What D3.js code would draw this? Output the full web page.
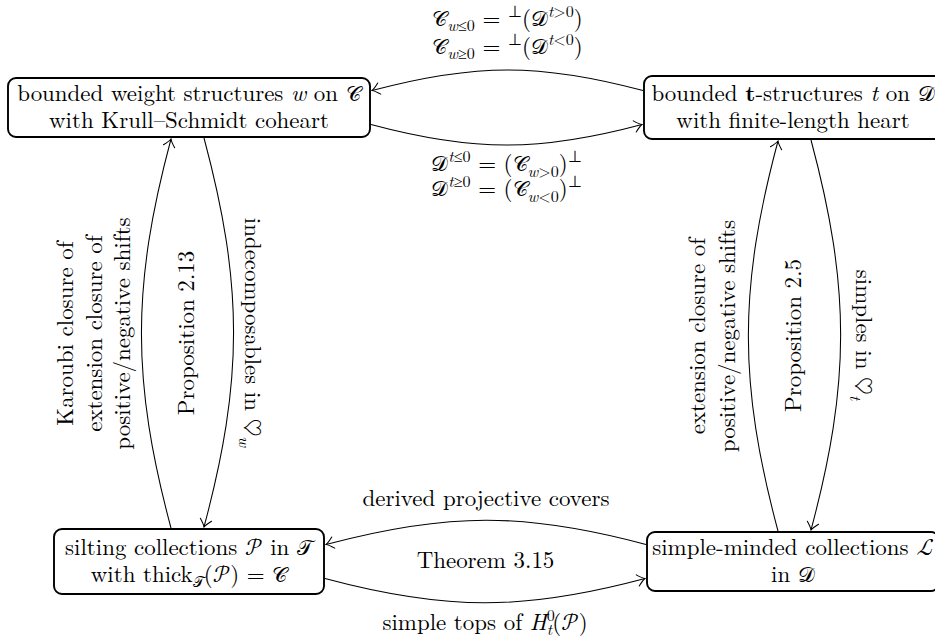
<!DOCTYPE html>
<html><head><meta charset="utf-8">
<script src="https://cdn.jsdelivr.net/npm/d3@7"></script>
<style>
html,body{margin:0;padding:0;background:#fff;}
svg{display:block;}
text{fill:#000;white-space:pre;}
</style></head><body>
<svg id="c" width="935" height="642"></svg>
<script>
// ---------------- data ----------------
const nodeIds  = ["weight", "tstruct", "silting", "smc"];
const nodeCols = [0, 1, 0, 1];
const nodeRows = [0, 0, 1, 1];
const nodeLabels = [
  [[["bounded weight structures "],["w","i"],[" on "],["𝒞","s"]],
   [["with Krull–Schmidt coheart"]]],
  [[["bounded "],["t","b"],["-structures "],["t","i"],[" on "],["𝒟","s"]],
   [["with finite-length heart"]]],
  [[["silting collections "],["𝒫","c"],[" in "],["𝒯","s"]],
   [["with thick"],["𝒯","s sub"],["("],["𝒫","c"],[") = "],["𝒞","s"]]],
  [[["simple-minded collections "],["ℒ","c"]],
   [["in "],["𝒟","s"]]]
];
const edgeFrom = [1, 0, 3, 2, 2, 0, 3, 1];
const edgeTo   = [0, 1, 2, 3, 0, 2, 1, 3];
const edgeLabels = [
  [[["𝒞","s"],["w","sub i"],["≤0","sub"],[" = "],["⊥","sup"],["("],["𝒟","s"],["t","sup i"],[">0","sup"],[")"]],
   [["𝒞","s"],["w","sub i"],["≥0","sub"],[" = "],["⊥","sup"],["("],["𝒟","s"],["t","sup i"],["<0","sup"],[")"]]],
  [[["𝒟","s"],["t","sup i"],["≤0","sup"],[" = ("],["𝒞","s"],["w","sub i"],[">0","sub"],[")"],["⊥","sup"]],
   [["𝒟","s"],["t","sup i"],["≥0","sup"],[" = ("],["𝒞","s"],["w","sub i"],["<0","sub"],[")"],["⊥","sup"]]],
  [[["derived projective covers"]]],
  [[["simple tops of "],["H","i"],["0","sup"],["t","sub i stack"],["("],["𝒫","c"],[")"]]],
  [[["Karoubi closure of"]],[["extension closure of"]],[["positive/negative shifts"]]],
  [[["indecomposables in "],["♡","h"],["w","sub i"]]],
  [[["extension closure of"]],[["positive/negative shifts"]]],
  [[["simples in "],["♡","h"],["t","sub i"]]]
];
const pairEdges  = [[2, 3], [4, 5], [6, 7]];
const pairLabels = ["Theorem 3.15", "Proposition 2.13", "Proposition 2.5"];

// ---------------- layout / style ----------------
const svg = d3.select("#c");
svg.style("font-family", "'Latin Modern Roman','CMU Serif','Liberation Serif',serif");
const scrFont = "'DejaVu Sans',sans-serif";              // curly script (\mathscr)
const calFont = "'Latin Modern Math','STIX Two Math',serif"; // calligraphic (\mathcal)

const x = d3.scaleLinear().domain([0, 1]).range([189, 793]);
const y = d3.scaleLinear().domain([0, 1]).range([107.5, 561.5]);
const boxW = [362, 298, 270, 292], boxH = [59, 63, 65, 59];
const edgeShift = [-17, 17, -17, 17, -18, 15, -15, 18];
const labelOff = [[-44, -16], [26, 51], [-14], [27], [-68, -39, -11], [11], [-43, -13], [15]];
const bend = 15 * Math.PI / 180;

function drawRuns(sel, runs, fs) {
  let cur = 0;
  runs.forEach(([str, st = ""]) => {
    const tk = st.split(" ");
    const ts = sel.append("tspan").text(str);
    let off = 0, size = fs;
    if (tk.includes("sub")) { off = 0.24 * fs; size = 0.7 * fs; }
    if (tk.includes("sup")) { off = -0.4 * fs; size = 0.7 * fs; }
    if (off !== cur) ts.attr("dy", off - cur);
    cur = off;
    ts.attr("font-size", size);
    if (tk.includes("i")) ts.attr("font-style", "italic");
    if (tk.includes("b")) ts.attr("font-weight", "bold");
    if (tk.includes("s")) ts.attr("font-family", scrFont).attr("font-size", size * 0.92);
    if (tk.includes("c")) ts.attr("font-family", calFont);
    if (tk.includes("h")) ts.attr("font-family", calFont);
    if (tk.includes("stack")) ts.attr("dx", -0.5 * size);
  });
}

// font size fitted so the widest box line spans like the reference
const probe = svg.append("text").attr("font-size", 20);
drawRuns(probe, nodeLabels[0][0], 20);
const F = Math.max(17, Math.min(24, 20 * 346 / probe.node().getBBox().width));
probe.remove();

const defs = svg.append("defs");
defs.append("marker").attr("id", "to")
  .attr("viewBox", "-10 -8 12 16").attr("refX", 0).attr("refY", 0)
  .attr("markerWidth", 12).attr("markerHeight", 16)
  .attr("markerUnits", "userSpaceOnUse").attr("orient", "auto")
  .append("path").attr("d", "M-7.5,-5.8 Q-2.6,-1.1 0,0 Q-2.6,1.1 -7.5,5.8")
  .attr("fill", "none").attr("stroke", "#000").attr("stroke-width", 1.05)
  .attr("stroke-linecap", "round");

const nodes = nodeIds.map((id, i) => ({
  id, cx: x(nodeCols[i]), cy: y(nodeRows[i]), w: boxW[i], h: boxH[i], lines: nodeLabels[i]
}));

// edges
const edges = edgeFrom.map((f, e) => {
  const A = nodes[f], B = nodes[edgeTo[e]], s = edgeShift[e];
  let p0, p3, n;
  if (nodeRows[f] === nodeRows[edgeTo[e]]) {
    const dir = Math.sign(B.cx - A.cx);
    p0 = [A.cx + dir * (A.w / 2 + 1), A.cy + s];
    p3 = [B.cx - dir * (B.w / 2 + 2), B.cy + s];
    n = [0, Math.sign(s)];
  } else {
    const dir = Math.sign(B.cy - A.cy);
    p0 = [A.cx + s, A.cy + dir * (A.h / 2 + 1)];
    p3 = [B.cx + s, B.cy - dir * (B.h / 2 + 2)];
    n = [Math.sign(s), 0];
  }
  const dx = p3[0] - p0[0], dy = p3[1] - p0[1], d = Math.hypot(dx, dy);
  const u = [dx / d, dy / d], k = 0.3915 * d, c = Math.cos(bend), sn = Math.sin(bend);
  const p1 = [p0[0] + k * (c * u[0] + sn * n[0]), p0[1] + k * (c * u[1] + sn * n[1])];
  const p2 = [p3[0] + k * (-c * u[0] + sn * n[0]), p3[1] + k * (-c * u[1] + sn * n[1])];
  const apex = [(p0[0] + 3 * p1[0] + 3 * p2[0] + p3[0]) / 8, (p0[1] + 3 * p1[1] + 3 * p2[1] + p3[1]) / 8];
  const path = d3.path();
  path.moveTo(p0[0], p0[1]);
  path.bezierCurveTo(p1[0], p1[1], p2[0], p2[1], p3[0], p3[1]);
  return { e, n, apex, horiz: n[0] === 0, d: path.toString() };
});

svg.append("g").selectAll("path").data(edges).join("path")
  .attr("d", d => d.d).attr("fill", "none").attr("stroke", "#000")
  .attr("stroke-width", 1.05).attr("marker-end", "url(#to)");

// boxes
const ng = svg.append("g").selectAll("g").data(nodes).join("g");
ng.append("rect")
  .attr("x", d => d.cx - d.w / 2).attr("y", d => d.cy - d.h / 2)
  .attr("width", d => d.w).attr("height", d => d.h)
  .attr("rx", 8).attr("ry", 8)
  .attr("fill", "#fff").attr("stroke", "#000").attr("stroke-width", 1.9);
ng.each(function (d) {
  const g = d3.select(this);
  d.lines.forEach((runs, li) => {
    const t = g.append("text").attr("x", d.cx).attr("y", d.cy - 6.5 + li * 26.7)
      .attr("text-anchor", "middle").attr("font-size", F);
    drawRuns(t, runs, F);
  });
});

// edge labels
const lg = svg.append("g");
edges.forEach(ed => {
  const runsLines = edgeLabels[ed.e], offs = labelOff[ed.e];
  runsLines.forEach((runs, li) => {
    let t;
    if (ed.horiz) {
      t = lg.append("text").attr("x", ed.apex[0]).attr("y", ed.apex[1] + offs[li])
        .attr("text-anchor", "middle").attr("font-size", F);
    } else {
      const rot = ed.n[0] < 0 ? -90 : 90;
      t = lg.append("text").attr("text-anchor", "middle").attr("font-size", F)
        .attr("transform", `translate(${ed.apex[0] + offs[li]},${ed.apex[1]}) rotate(${rot})`);
    }
    drawRuns(t, runs, F);
  });
});

// labels between paired edges
pairEdges.forEach(([a, b], i) => {
  const A = edges[a].apex, B = edges[b].apex;
  const m = [(A[0] + B[0]) / 2, (A[1] + B[1]) / 2];
  if (edges[a].horiz) {
    lg.append("text").attr("x", m[0]).attr("y", m[1] + 6.5)
      .attr("text-anchor", "middle").attr("font-size", F).text(pairLabels[i]);
  } else {
    lg.append("text").attr("text-anchor", "middle").attr("font-size", F)
      .attr("transform", `translate(${m[0] + 6},${m[1]}) rotate(-90)`).text(pairLabels[i]);
  }
});
</script>
</body></html>
